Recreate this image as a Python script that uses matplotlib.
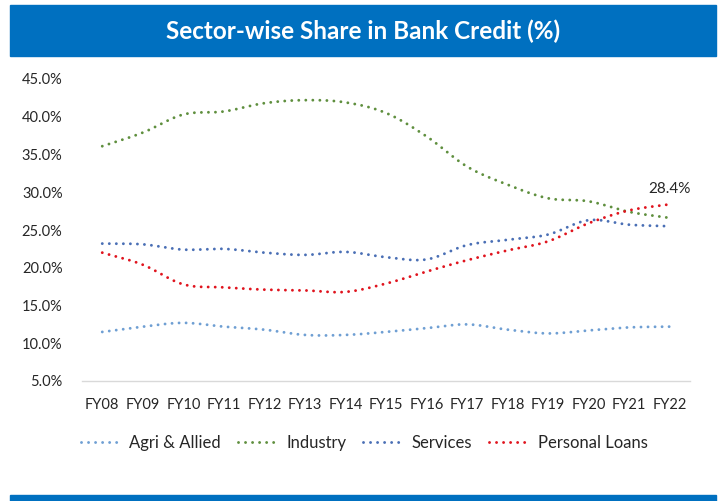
import numpy as np
import matplotlib
matplotlib.use("Agg")
import matplotlib.pyplot as plt
from matplotlib.patches import Rectangle

years = ["FY08", "FY09", "FY10", "FY11", "FY12", "FY13", "FY14", "FY15",
         "FY16", "FY17", "FY18", "FY19", "FY20", "FY21", "FY22"]
agri = [11.5, 12.2, 12.7, 12.2, 11.8, 11.1, 11.1, 11.5, 12.0, 12.5, 11.8, 11.3, 11.7, 12.1, 12.2]
industry = [36.1, 37.9, 40.3, 40.7, 41.8, 42.2, 41.9, 40.5, 37.4, 33.4, 31.0, 29.2, 28.8, 27.4, 26.6]
services = [23.2, 23.1, 22.4, 22.5, 22.0, 21.7, 22.1, 21.4, 21.1, 23.0, 23.7, 24.4, 26.3, 25.7, 25.5]
personal = [22.0, 20.4, 17.8, 17.4, 17.1, 17.0, 16.8, 17.9, 19.5, 21.0, 22.3, 23.5, 25.9, 27.6, 28.4]
series_names = ["Agri & Allied", "Industry", "Services", "Personal Loans"]
series_colors = ["#6F9FD3", "#5F8F3E", "#4A6FB5", "#E0141E"]
yticks = [5, 10, 15, 20, 25, 30, 35, 40, 45]

W, H, DPI = 723, 501, 100
FONT = ["Lato", "DejaVu Sans"]
plt.rcParams["font.family"] = FONT


def smooth(x, y, n=24):
    """Catmull-Rom curve through every data point (smoothed line)."""
    x = np.asarray(x, float)
    y = np.asarray(y, float)
    px = np.concatenate([[2 * x[0] - x[1]], x, [2 * x[-1] - x[-2]]])
    py = np.concatenate([[2 * y[0] - y[1]], y, [2 * y[-1] - y[-2]]])
    out_x, out_y = [], []
    t = np.linspace(0, 1, n, endpoint=False)
    for i in range(1, len(px) - 2):
        for arr, out in ((px, out_x), (py, out_y)):
            p0, p1, p2, p3 = arr[i - 1], arr[i], arr[i + 1], arr[i + 2]
            out.extend(0.5 * ((2 * p1) + (-p0 + p2) * t
                              + (2 * p0 - 5 * p1 + 4 * p2 - p3) * t ** 2
                              + (-p0 + 3 * p1 - 3 * p2 + p3) * t ** 3))
    out_x.append(x[-1])
    out_y.append(y[-1])
    return np.array(out_x), np.array(out_y)


fig = plt.figure(figsize=(W / DPI, H / DPI), dpi=DPI)
fig.patch.set_facecolor("white")

# title banner and footer bar
fig.add_artist(Rectangle((10 / W, 1 - 56 / H), 706 / W, 51 / H,
                         transform=fig.transFigure, color="#0070C0", zorder=0))
fig.text(363 / W, 1 - 31 / H, "Sector-wise Share in Bank Credit (%)",
         ha="center", va="center", color="white", fontsize=17.5,
         fontweight="bold", family=FONT)
fig.add_artist(Rectangle((10 / W, 1 - 501 / H), 706 / W, 6 / H,
                         transform=fig.transFigure, color="#0070C0", zorder=0))

ax = fig.add_axes([82 / W, 1 - 381 / H, 608 / W, 302 / H])
xs = np.arange(len(years))
lines = []
for vals, name, col in zip([agri, industry, services, personal], series_names, series_colors):
    sx, sy = smooth(xs, vals)
    ln, = ax.plot(sx, sy, color=col, lw=2.1, linestyle=(0, (0.01, 2.4)),
                  dash_capstyle="round", label=name, clip_on=False)
    lines.append(ln)

ax.annotate(f"{personal[-1]:.1f}%", (xs[-1], personal[-1]), xytext=(0, 6),
            textcoords="offset points", ha="center", va="bottom",
            fontsize=11, color="#262626")

ax.set_xlim(-0.5, len(years) - 0.5)
ax.set_ylim(yticks[0], yticks[-1])
ax.set_xticks(xs)
ax.set_xticklabels(years)
ax.set_yticks(yticks)
ax.set_yticklabels([f"{v:.1f}%" for v in yticks])
ax.tick_params(axis="both", length=0, labelsize=10.5, colors="#262626")
ax.tick_params(axis="x", pad=12)
ax.tick_params(axis="y", pad=14)
for s in ["top", "right", "left"]:
    ax.spines[s].set_visible(False)
ax.spines["bottom"].set_color("#D9D9D9")
ax.spines["bottom"].set_linewidth(1.0)

leg = fig.legend(handles=lines, loc="center", bbox_to_anchor=(364 / W, 1 - 443 / H),
                 ncol=4, frameon=False, fontsize=12, handlelength=2.5,
                 columnspacing=1.0, handletextpad=0.42)
for t in leg.get_texts():
    t.set_color("#262626")

fig.savefig("out.png", dpi=DPI)
